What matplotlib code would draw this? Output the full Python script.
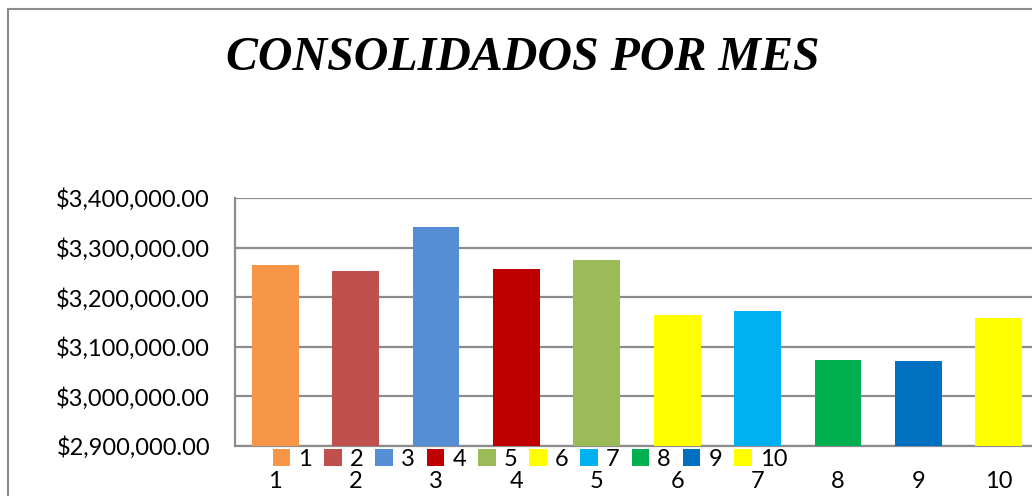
import matplotlib
matplotlib.use("Agg")
import matplotlib.pyplot as plt
from matplotlib.patches import Rectangle
from matplotlib.ticker import FuncFormatter


TITLE = "CONSOLIDADOS POR MES"
MONTHS = ["1", "2", "3", "4", "5", "6", "7", "8", "9", "10"]
TOTALS = [3265000, 3253400, 3341500, 3256900, 3275000,
          3164100, 3172200, 3073400, 3071400, 3158700]
COLORS = ["#F79646", "#C0504D", "#558ED5", "#C00000", "#9BBB59",
          "#FFFF00", "#00B0F0", "#00B050", "#0070C0", "#FFFF00"]
Y_MIN, Y_MAX, Y_STEP = 2900000, 3400000, 100000

FONT = "Lato"
FSIZE = 17
GRID = "#8c8c8c"


def money(v, _pos=None):
    return "${:,.2f}".format(v)


def plot_consolidados():
    fig = plt.figure(figsize=(10.32, 4.96), dpi=100)
    W, H = 1032, 496

    # chart frame (partly cut off on right/bottom, like the source)
    fig.patches.append(Rectangle((8 / W, -0.1), 1.1, (487 / H) + 0.1,
                                 transform=fig.transFigure, fill=False,
                                 edgecolor="#8c8c8c", linewidth=1.5))

    ax = fig.add_axes([235 / W, 50 / H, 804 / W, 248 / H])
    x = list(range(len(MONTHS)))
    for i in x:
        ax.bar(i, TOTALS[i], width=0.58, color=COLORS[i], label=MONTHS[i],
               zorder=3)

    ax.set_xlim(-0.5, len(MONTHS) - 0.5)
    ax.set_ylim(Y_MIN, Y_MAX)
    ax.set_yticks(range(Y_MIN, Y_MAX + 1, Y_STEP))
    ax.yaxis.set_major_formatter(FuncFormatter(money))
    ax.set_xticks(x)
    ax.set_xticklabels(MONTHS)
    ax.tick_params(axis="y", length=0, pad=18, labelsize=FSIZE)
    ax.tick_params(axis="x", length=0, pad=18, labelsize=FSIZE)
    for lab in ax.get_xticklabels() + ax.get_yticklabels():
        lab.set_fontfamily(FONT)

    ax.grid(axis="y", color=GRID, linewidth=1.6, zorder=0)
    for side in ["top", "right"]:
        ax.spines[side].set_visible(False)
    for side in ["left", "bottom"]:
        ax.spines[side].set_color(GRID)
        ax.spines[side].set_linewidth(1.6)

    fig.legend(loc="center", bbox_to_anchor=(530 / W, 1 - 459 / H), ncol=10,
               frameon=False, prop={"family": FONT, "size": FSIZE},
               handlelength=0.75, handleheight=0.75, handletextpad=0.34,
               columnspacing=0.5, borderaxespad=0, borderpad=0)

    fig.text(523 / W, 1 - 58 / H, TITLE, ha="center", va="center",
             fontsize=34.5, fontweight="bold", fontstyle="italic",
             family="Liberation Serif")

    fig.savefig("out.png", dpi=100)


if __name__ == "__main__":
    plot_consolidados()
